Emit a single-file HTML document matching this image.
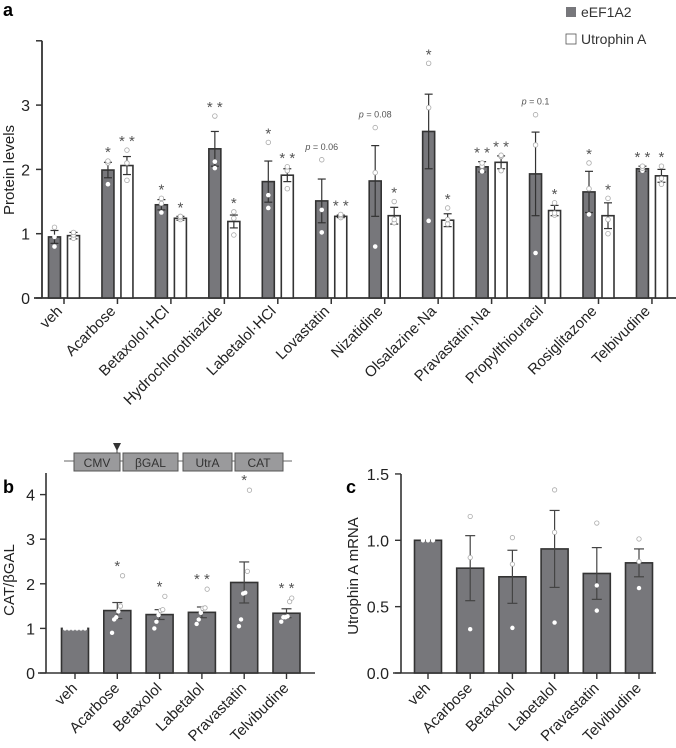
<!DOCTYPE html>
<html><head><meta charset="utf-8"><style>
body{margin:0;background:#fff;width:676px;height:743px;overflow:hidden}
svg{font-family:"Liberation Sans",Arial,sans-serif}
</style></head><body>
<svg id="fig" width="676" height="743" viewBox="0 0 676 743" xmlns="http://www.w3.org/2000/svg"></svg>
<script>
// ---- Panel a data ----
const aCats=["veh","Acarbose","Betaxolol·HCl","Hydrochlorothiazide","Labetalol·HCl","Lovastatin","Nizatidine","Olsalazine·Na","Pravastatin·Na","Propylthiouracil","Rosiglitazone","Telbivudine"];
const aEef=[0.95,1.99,1.45,2.32,1.81,1.51,1.82,2.59,2.04,1.93,1.65,2.01];
const aEefErr=[0.1,0.12,0.08,0.27,0.32,0.34,0.55,0.58,0.08,0.65,0.32,0.04];
const aUtr=[0.97,2.06,1.24,1.19,1.91,1.27,1.28,1.21,2.11,1.36,1.28,1.90];
const aUtrErr=[0.05,0.14,0.03,0.1,0.1,0.02,0.13,0.1,0.1,0.08,0.2,0.1];
const aEefPts=[[0.8,0.95,1.1],[1.77,2.1,2.13],[1.33,1.47,1.55],[2.02,2.12,2.83],[1.4,1.6,2.42],[1.02,1.37,2.15],[0.8,1.95,2.65],[1.2,2.96,3.65],[1.97,2.05,2.1],[0.7,2.38,2.85],[1.3,1.7,2.1],[1.98,2.02,2.05]];
const aUtrPts=[[0.93,0.98,1.02],[1.83,2.1,2.3],[1.22,1.25,1.27],[0.98,1.24,1.34],[1.7,1.98,2.04],[1.25,1.28,1.3],[1.17,1.22,1.5],[1.15,1.22,1.4],[1.98,2.2,2.22],[1.29,1.32,1.48],[1.0,1.22,1.55],[1.77,1.86,2.05]];
const aEefSig=["","*","*","**","*","p = 0.06","p = 0.08","*","**","p = 0.1","*","**"];
const aUtrSig=["","**","*","*","**","**","*","*","**","*","*","*"];
const aTicks=[0,1,2,3];
// ---- Panel b data ----
const bCats=["veh","Acarbose","Betaxolol","Labetalol","Pravastatin","Telvibudine"];
const bVals=[1.0,1.40,1.31,1.36,2.03,1.34];
const bErr=[0,0.18,0.11,0.12,0.46,0.1];
const bPts=[[1,1,1,1,1,1],[0.9,1.2,1.25,1.38,1.5,2.18],[1.0,1.15,1.3,1.4,1.42,1.72],[1.1,1.2,1.35,1.45,1.46,1.88],[1.05,1.2,1.78,1.8,2.28,4.1],[1.15,1.25,1.25,1.27,1.6,1.68]];
const bSig=["","*","*","**","*","**"];
const bTicks=[0,1,2,3,4];
// ---- Panel c data ----
const cCats=["veh","Acarbose","Betaxolol","Labetalol","Pravastatin","Telvibudine"];
const cVals=[1.0,0.79,0.725,0.935,0.75,0.83];
const cErr=[0,0.245,0.2,0.29,0.195,0.105];
const cPts=[[1,1,1],[0.33,0.87,1.18],[0.34,0.82,1.02],[0.38,1.06,1.38],[0.47,0.66,1.13],[0.64,0.84,1.01]];
const cTicks=["0.0","0.5","1.0","1.5"];

const S=document.getElementById('fig');
const NS="http://www.w3.org/2000/svg";
function mk(tag,at,txt){const e=document.createElementNS(NS,tag);for(const k in at)e.setAttribute(k,at[k]);if(txt!==undefined)e.textContent=txt;S.appendChild(e);return e;}
const DG="#77777b", AX="#333";

// ===== Panel a =====
const aY=v=>298-v*64.3;
const aX=i=>64+i*53.45;
let e=mk('text',{x:3,y:16,'font-size':18,'font-weight':'bold'},'a');

e=mk('line',{x1:42,y1:aY(4),x2:42,y2:298,stroke:AX,'stroke-width':1.8});

e=mk('line',{x1:34,y1:298,x2:676,y2:298,stroke:AX,'stroke-width':1.8});

for(const t of aTicks){mk('line',{x1:36,y1:aY(t),x2:42,y2:aY(t),stroke:AX,'stroke-width':1.5});
 e=mk('text',{x:30,y:aY(t)+6,'font-size':16,'text-anchor':'end',fill:'#222'},t);
 }
mk('line',{x1:36,y1:aY(4),x2:42,y2:aY(4),stroke:AX,'stroke-width':1.5});
e=mk('text',{x:14,y:170,'font-size':15,'text-anchor':'middle',transform:'rotate(-90 14 170)',fill:'#222'},'Protein levels');

function errbar(cx,top,err,hw,col){mk('line',{x1:cx,y1:top-err,x2:cx,y2:top+err,stroke:col,'stroke-width':1.2});
 mk('line',{x1:cx-hw,y1:top-err,x2:cx+hw,y2:top-err,stroke:col,'stroke-width':1.2});
 mk('line',{x1:cx-hw,y1:top+err,x2:cx+hw,y2:top+err,stroke:col,'stroke-width':1.2});}
function sig(cx,y,s){if(!s)return;const p=s.startsWith('p');
 e=mk('text',{x:cx,y:y,'font-size':p?9:15,'text-anchor':'middle',fill:'#555'});
 
 if(p){const ts=document.createElementNS(NS,'tspan');ts.setAttribute('font-style','italic');ts.textContent='p';e.appendChild(ts);e.appendChild(document.createTextNode(s.slice(1)));}else e.textContent=s.split('').join(' ');}
aCats.forEach((c,i)=>{
 const g=aX(i);
 mk('line',{x1:g,y1:298,x2:g,y2:304,stroke:AX,'stroke-width':1.5});
 [[aEef,aEefErr,aEefPts,aEefSig,-9.5,DG],[aUtr,aUtrErr,aUtrPts,aUtrSig,9.5,'#fff']].forEach(([V,E,P,SG,off,fill],k)=>{
  const cx=g+off,top=aY(V[i]);
  e=mk('rect',{x:cx-6,y:top,width:12,height:298-top,fill:fill,stroke:AX,'stroke-width':1.6});
  
  errbar(cx,top,E[i]*64.3,4,AX);
  let mx=V[i]+E[i];
  P[i].forEach(p=>{mx=Math.max(mx,p);e=mk('circle',{cx:cx,cy:aY(p),r:2.3,fill:'#fff',stroke:k||p>V[i]?'#aaa':'none','stroke-width':0.8});
   });
  sig(cx,aY(mx)-(SG[i].startsWith('p')?10:4),SG[i]);
 });
 const lx=g-1,ly=312;
 e=mk('text',{x:lx,y:ly,'font-size':15,'text-anchor':'end',fill:'#222',transform:`rotate(-45 ${lx} ${ly})`},c);
 
});
e=mk('rect',{x:566,y:7,width:10,height:10,fill:DG});

e=mk('text',{x:581,y:17,'font-size':14,fill:'#333'},'eEF1A2');

e=mk('rect',{x:566,y:34,width:10,height:10,fill:'#fff',stroke:'#555','stroke-width':0.8});

e=mk('text',{x:581,y:44,'font-size':14,fill:'#333'},'Utrophin A');


// ===== Panel b =====
const bY=v=>673-v*44.6;
const bX=i=>75+i*42.3;
e=mk('text',{x:3,y:493,'font-size':18,'font-weight':'bold'},'b');

mk('line',{x1:64,y1:461,x2:292,y2:461,stroke:'#666','stroke-width':1});
[["CMV",74,120],["βGAL",123,178],["UtrA",183,232],["CAT",235,283]].forEach(([t,x1,x2])=>{
 e=mk('rect',{x:x1,y:453,width:x2-x1,height:18,fill:'#9a9a9c',stroke:'#555','stroke-width':1});
 
 e=mk('text',{x:(x1+x2)/2,y:467,'font-size':12,'text-anchor':'middle',fill:'#333'},t);
 });
mk('line',{x1:117,y1:445,x2:117,y2:453,stroke:'#444','stroke-width':1});
e=mk('polygon',{points:'113,443 121,443 117,451',fill:'#333'});

mk('line',{x1:46,y1:473,x2:46,y2:673,stroke:AX,'stroke-width':1.6});
mk('line',{x1:38,y1:673,x2:315,y2:673,stroke:AX,'stroke-width':1.6});
for(const t of bTicks){mk('line',{x1:40,y1:bY(t),x2:46,y2:bY(t),stroke:AX,'stroke-width':1.4});
 e=mk('text',{x:35,y:bY(t)+6,'font-size':16,'text-anchor':'end',fill:'#222'},t);
 }
e=mk('text',{x:14,y:580,'font-size':15,'text-anchor':'middle',transform:'rotate(-90 14 580)',fill:'#222'},'CAT/βGAL');

function simpleBars(cats,vals,errs,pts,sigs,X,Y,base,scale,pfx){
 cats.forEach((c,i)=>{const cx=X(i),top=Y(vals[i]);
  mk('line',{x1:cx,y1:base,x2:cx,y2:base+6,stroke:AX,'stroke-width':1.4});
  e=mk('rect',{x:cx-13.5,y:top,width:27,height:base-top,fill:DG,stroke:AX,'stroke-width':1.6});
  
  if(errs[i]>0)errbar(cx,top,errs[i]*scale,5,'#444');
  let mx=vals[i]+errs[i];
  pts[i].forEach((p,j)=>{mx=Math.max(mx,p);const n=pts[i].length;const dx=n>3?(j-(n-1)/2)*3.5:0;
   const above=p>vals[i];
   e=mk('circle',{cx:cx+(vals[i]===1&&errs[i]===0?(j-(n-1)/2)*(n>3?4:5):dx*0.6),cy:Y(p),r:2.2,fill:'#fff',stroke:above?'#aaa':'none','stroke-width':0.8});
   });
  if(sigs)sig(cx,Y(mx)-5,sigs[i]);
  const lx=cx+3,ly=base+16;
  e=mk('text',{x:lx,y:ly,'font-size':15,'text-anchor':'end',fill:'#222',transform:`rotate(-45 ${lx} ${ly})`},c);
  });}
simpleBars(bCats,bVals,bErr,bPts,bSig,bX,bY,673,44.6,'panel-b');

// ===== Panel c =====
const cY=v=>673-v*132.7;
const cX=i=>428+i*42.2;
e=mk('text',{x:346,y:493,'font-size':18,'font-weight':'bold'},'c');

mk('line',{x1:401,y1:cY(1.5),x2:401,y2:673,stroke:AX,'stroke-width':1.6});
mk('line',{x1:393,y1:673,x2:656,y2:673,stroke:AX,'stroke-width':1.6});
for(const t of cTicks){mk('line',{x1:395,y1:cY(+t),x2:401,y2:cY(+t),stroke:AX,'stroke-width':1.4});
 e=mk('text',{x:389,y:cY(+t)+6,'font-size':16,'text-anchor':'end',fill:'#222'},t);
 }
e=mk('text',{x:358,y:576,'font-size':15,'text-anchor':'middle',transform:'rotate(-90 358 576)',fill:'#222'},'Utrophin A mRNA');

simpleBars(cCats,cVals,cErr,cPts,null,cX,cY,673,132.7,'panel-c');
</script>
</body></html>
